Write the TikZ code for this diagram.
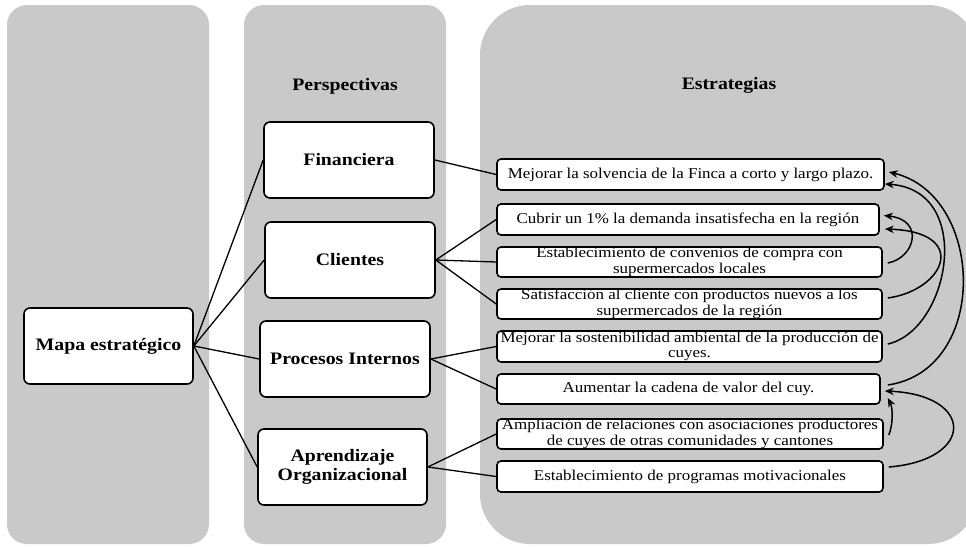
\documentclass[tikz,border=0pt]{standalone}
\usepackage{fontspec}
\setmainfont{Liberation Serif}[FakeStretch=1.13]
\usetikzlibrary{arrows.meta,calc}
\definecolor{panelgray}{RGB}{201,201,201}
\begin{document}
\begin{tikzpicture}[x=1pt,y=-1pt,
  titlefont/.style={font=\fontsize{17.5}{19}\selectfont\bfseries},
  titlebox/.style={titlefont, draw=black, line width=1.6pt, fill=white, rounded corners=6pt,
    minimum width=170pt, minimum height=76pt, inner sep=0pt, align=center},
  stratbox/.style={draw=black, line width=1.6pt, fill=white, rounded corners=4pt, inner sep=0pt},
  strattext/.style={align=center, inner sep=0pt, font=\fontsize{15}{15.5}\selectfont},
  link/.style={line width=1.3pt},
  fb/.style={line width=1.5pt, -{Stealth[length=9pt,width=7.5pt]}},
]
\useasboundingbox (0,0) rectangle (966,546);
\fill[white] (0,0) rectangle (966,546);
\begin{scope}
  \clip (0,0) rectangle (966,546);
  \fill[panelgray, rounded corners=20pt] (7,5) rectangle (209,544);
  \fill[panelgray, rounded corners=20pt] (244,5) rectangle (446,544);
  \fill[panelgray, rounded corners=50pt] (480,5) rectangle (978,544);
\end{scope}

% headers
\node[titlefont] (hp) at (345,86) {Perspectivas};
\node[titlefont] (he) at (729,85) {Estrategias};

% perspective boxes
\node[titlebox, minimum width=169pt] (mapa) at (108.5,346) {Mapa estratégico};
\node[titlebox] (fin) at (349,160) {Financiera};
\node[titlebox] (cli) at (350,260) {Clientes};
\node[titlebox] (pro) at (345,359) {Procesos Internos};
\node[titlebox, minimum width=169pt] (apr) at (342.5,467) {Aprendizaje\\Organizacional};

% strategy boxes
\node[stratbox, minimum width=387pt, minimum height=31pt] (s1) at (690.5,174.5) {};
\node[strattext] (t1) at (s1) {Mejorar la solvencia de la Finca a corto y largo plazo.};
\node[stratbox, minimum width=382pt, minimum height=31pt] (s2) at (688,219.5) {};
\node[strattext] (t2) at (s2) {Cubrir un 1\% la demanda insatisfecha en la región};
\node[stratbox, minimum width=385pt, minimum height=30pt] (s3) at (689.5,262) {};
\node[strattext] (t3) at (s3) {Establecimiento de convenios de compra con\\supermercados locales};
\node[stratbox, minimum width=385pt, minimum height=30pt] (s4) at (689.5,304) {};
\node[strattext] (t4) at (s4) {Satisfacción al cliente con productos nuevos a los\\supermercados de la región};
\node[stratbox, minimum width=385pt, minimum height=31pt] (s5) at (689.5,346.5) {};
\node[strattext] (t5) at (s5) {Mejorar la sostenibilidad ambiental de la producción de\\cuyes.};
\node[stratbox, minimum width=383pt, minimum height=30pt] (s6) at (688.5,389) {};
\node[strattext] (t6) at (s6) {Aumentar la cadena de valor del cuy.};
\node[stratbox, minimum width=386pt, minimum height=30pt] (s7) at (690,434) {};
\node[strattext] (t7) at (s7) {Ampliación de relaciones con asociaciones productores\\de cuyes de otras comunidades y cantones};
\node[stratbox, minimum width=386pt, minimum height=31pt] (s8) at (690,476.5) {};
\node[strattext] (t8) at (s8) {Establecimiento de programas motivacionales};

% links
\draw[link] (mapa.east) -- (fin.west);
\draw[link] (mapa.east) -- (cli.west);
\draw[link] (mapa.east) -- (pro.west);
\draw[link] (mapa.east) -- (apr.west);
\draw[link] (fin.east) -- (s1.west);
\draw[link] (cli.east) -- (s2.west);
\draw[link] (cli.east) -- (s3.west);
\draw[link] (cli.east) -- (s4.west);
\draw[link] (pro.east) -- (s5.west);
\draw[link] (pro.east) -- (s6.west);
\draw[link] (apr.east) -- (s7.west);
\draw[link] (apr.east) -- (s8.west);

% feedback arrows
\draw[fb] ($(s3.east)+(5,1)$) .. controls (915,258) and (925,220) .. ($(s2.east)+(4,-4)$);
\draw[fb] ($(s4.east)+(5,-6)$) .. controls (945,290) and (970,232) .. ($(s2.east)+(5,9.5)$);
\draw[fb] ($(s5.east)+(5,-2.5)$) .. controls (950,330) and (975,190) .. ($(s1.east)+(0,9.5)$);
\draw[fb] ($(s6.east)+(7,-4)$) .. controls (990,370) and (985,195) .. ($(s1.east)+(4,-2.5)$);
\draw[fb] ($(s8.east)+(5,-9.5)$) .. controls (975,460) and (975,395) .. ($(s6.east)+(4,2)$);
\draw[fb] ($(s7.east)+(5,1)$) .. controls (893,425) and (893,408) .. ($(s6.east)+(7,9)$);
\end{tikzpicture}
\end{document}
